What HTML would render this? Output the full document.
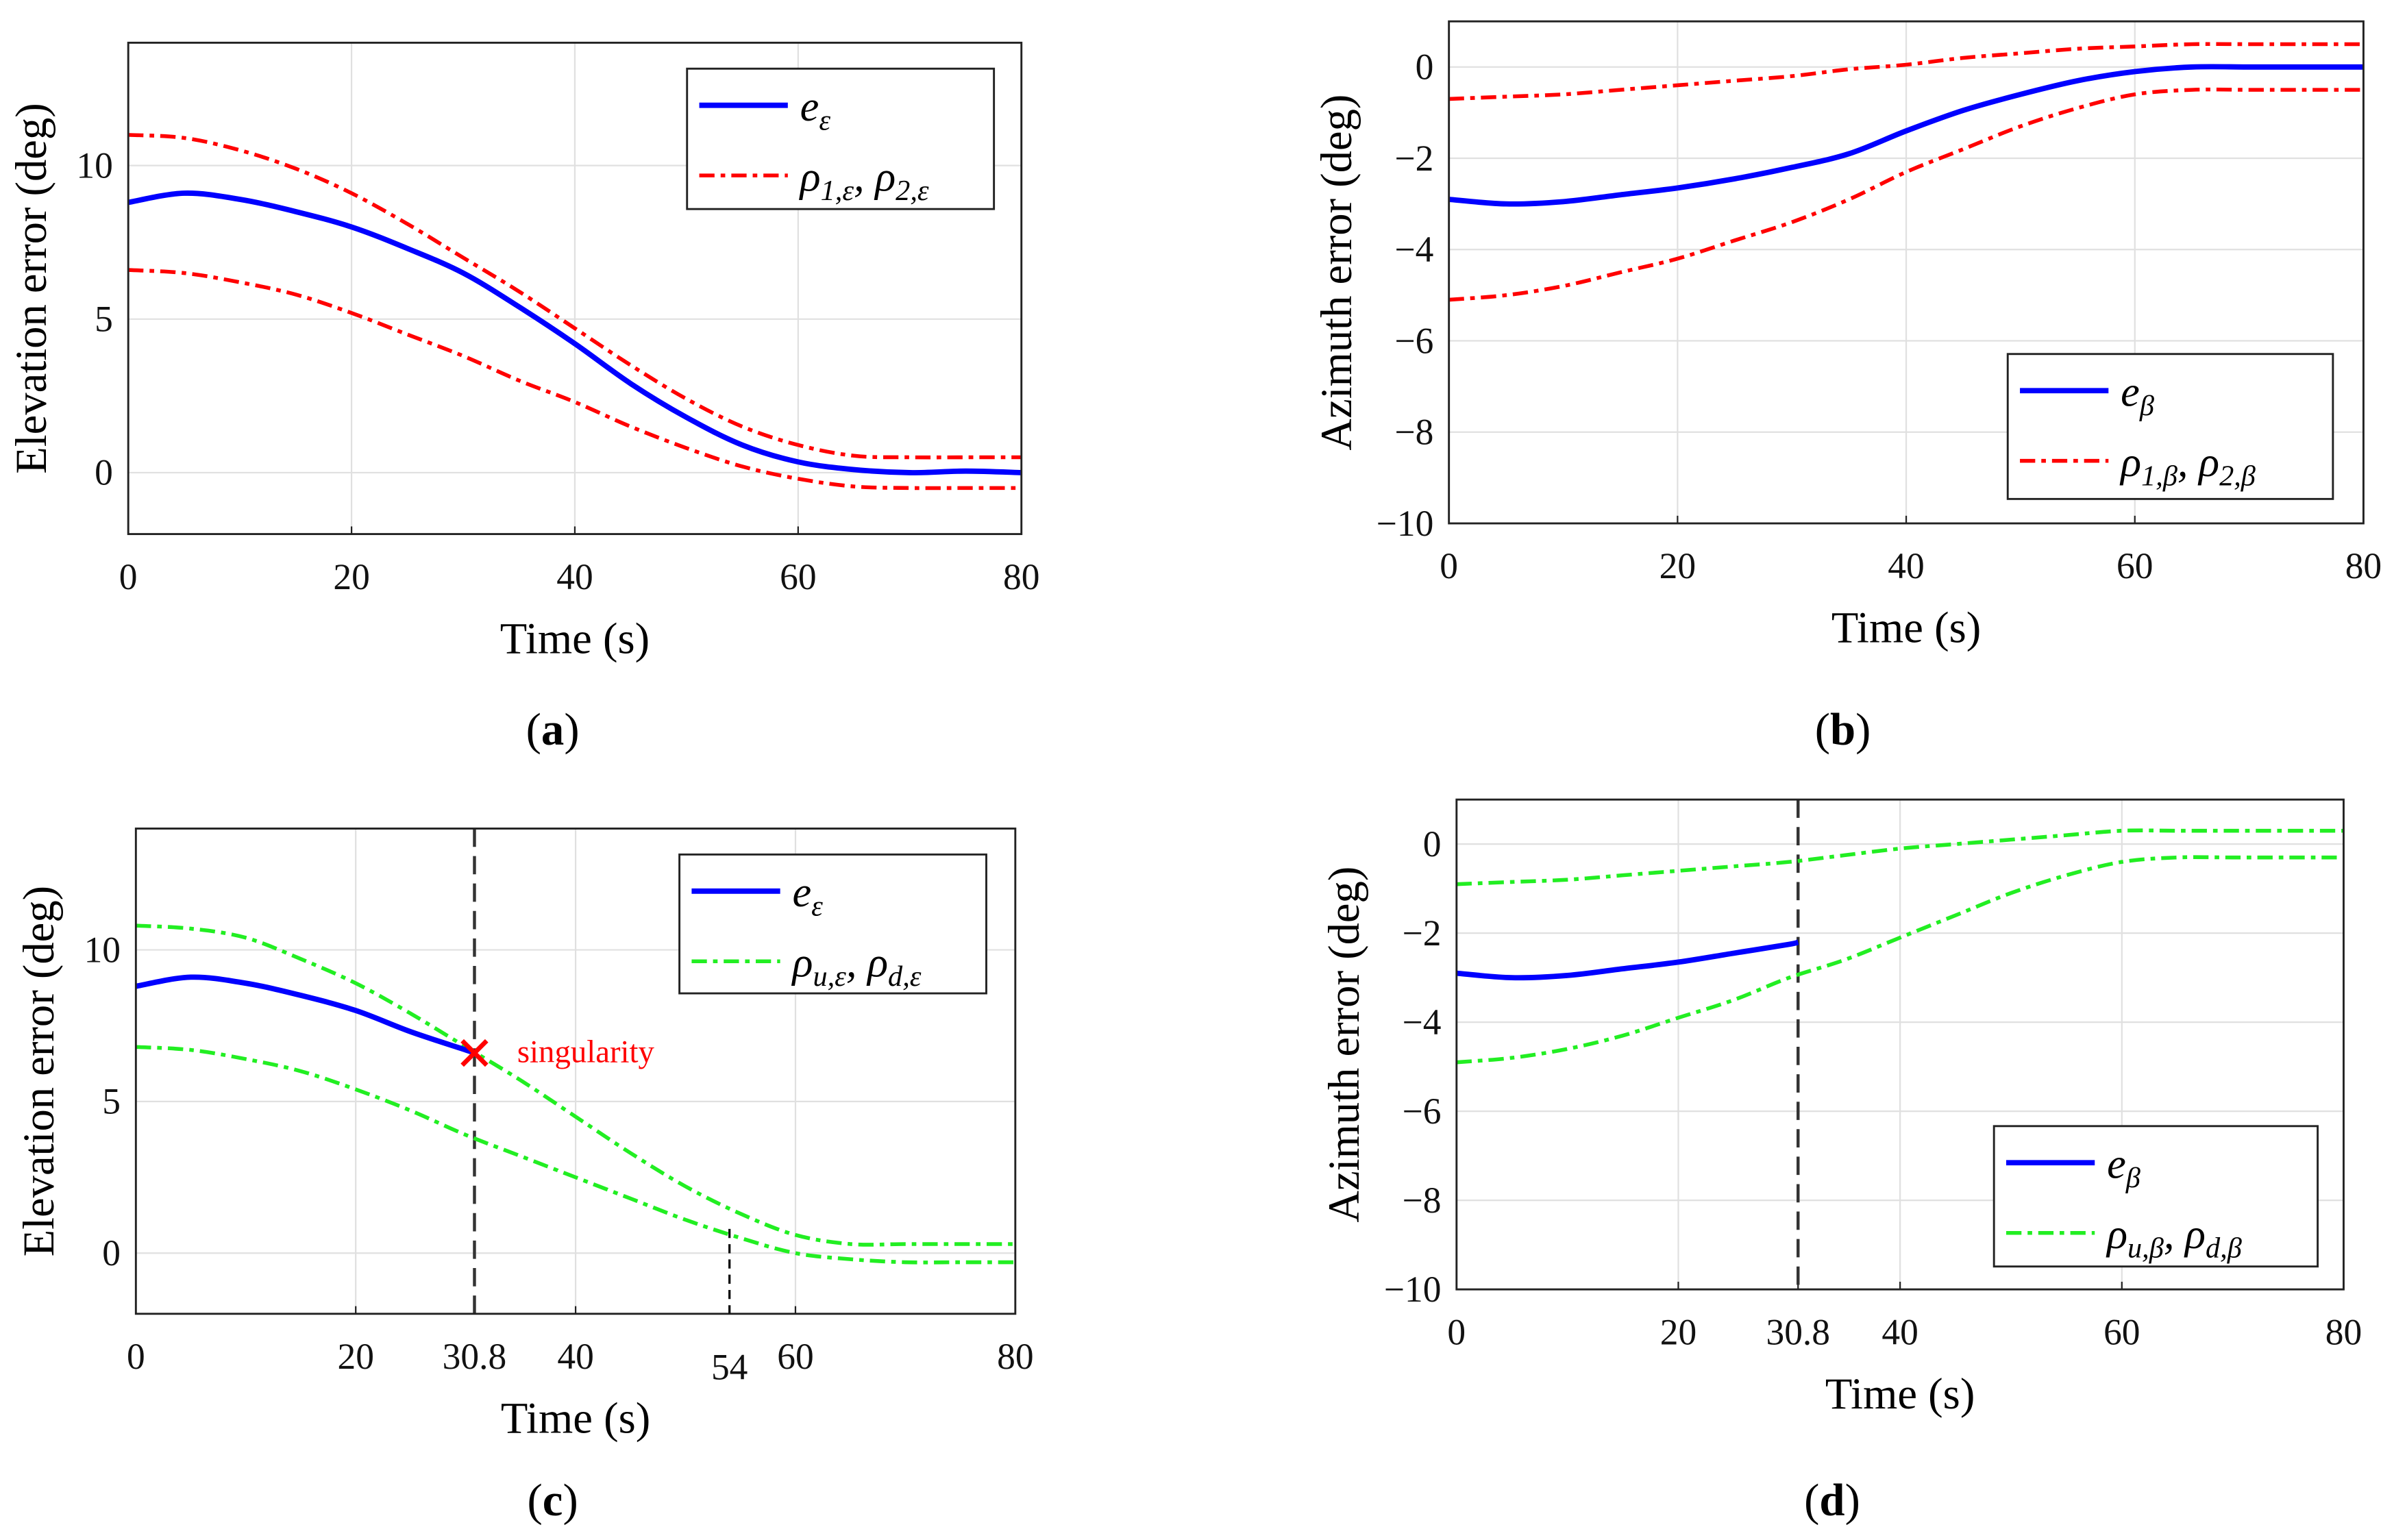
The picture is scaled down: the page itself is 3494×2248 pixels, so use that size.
<!DOCTYPE html>
<html><head><meta charset="utf-8"><style>
html,body{margin:0;padding:0;background:#fff;}
svg, svg text{font-family:"Liberation Serif","DejaVu Serif",serif;}
</style></head><body>
<svg id="fig" width="3494" height="2243" viewBox="0 0 1568 1007" preserveAspectRatio="none" font-family="Liberation Serif, serif" xmlns="http://www.w3.org/2000/svg"></svg>
<script>
const times=[0,5,10,15,20,25,30,35,40,45,50,55,60,65,70,75,80];
const aErr=[8.8,9.1,8.9,8.5,8.0,7.3,6.5,5.4,4.2,2.9,1.8,0.9,0.35,0.1,0.0,0.05,0];
const aUp=[11.0,10.9,10.5,9.9,9.1,8.1,7.0,5.9,4.7,3.5,2.4,1.5,0.9,0.55,0.5,0.5,0.5];
const aLo=[6.6,6.5,6.2,5.8,5.2,4.5,3.8,3.0,2.3,1.5,0.8,0.2,-0.2,-0.45,-0.5,-0.5,-0.5];
const bErr=[-2.9,-3.0,-2.95,-2.8,-2.65,-2.45,-2.2,-1.9,-1.4,-0.95,-0.6,-0.3,-0.1,0,0,0,0];
const bUp=[-0.7,-0.65,-0.6,-0.5,-0.4,-0.3,-0.2,-0.05,0.05,0.2,0.3,0.4,0.45,0.5,0.5,0.5,0.5];
const bLo=[-5.1,-5.0,-4.8,-4.5,-4.2,-3.8,-3.4,-2.9,-2.3,-1.8,-1.3,-0.9,-0.6,-0.5,-0.5,-0.5,-0.5];
const cTimes=[0,5,10,15,20,25,30,30.8];
const cErr=[8.8,9.1,8.9,8.5,8.0,7.3,6.7,6.6];
const cUp=[10.8,10.7,10.4,9.7,8.9,7.9,6.8,5.7,4.5,3.3,2.2,1.3,0.6,0.3,0.3,0.3,0.3];
const cLo=[6.8,6.7,6.4,6.0,5.4,4.7,3.9,3.2,2.5,1.8,1.1,0.5,0.0,-0.2,-0.3,-0.3,-0.3];
const dErr=[-2.9,-3.0,-2.95,-2.8,-2.65,-2.45,-2.25,-2.2];
const dUp=[-0.9,-0.85,-0.8,-0.7,-0.6,-0.5,-0.4,-0.25,-0.1,0,0.1,0.2,0.3,0.3,0.3,0.3,0.3];
const dLo=[-4.9,-4.8,-4.6,-4.3,-3.9,-3.5,-3.0,-2.6,-2.1,-1.6,-1.1,-0.7,-0.4,-0.3,-0.3,-0.3,-0.3];
const singT=30.8, markT=54;
const NS="http://www.w3.org/2000/svg";
const svg=document.getElementById('fig');
function mk(tag,attrs,parent,text){const e=document.createElementNS(NS,tag);for(const k in attrs)e.setAttribute(k,attrs[k]);if(text!==undefined)e.textContent=text;(parent||svg).appendChild(e);return e;}
function smooth(pts){let d='M'+pts[0][0]+','+pts[0][1];for(let i=0;i<pts.length-1;i++){const p0=pts[i-1]||pts[i],p1=pts[i],p2=pts[i+1],p3=pts[i+2]||p2;const c1=[p1[0]+(p2[0]-p0[0])/6,p1[1]+(p2[1]-p0[1])/6],c2=[p2[0]-(p3[0]-p1[0])/6,p2[1]-(p3[1]-p1[1])/6];d+=' C'+c1+' '+c2+' '+p2;}return d;}
function panel(cfg){
 const g=mk('g',{});
 const {x0,x1,y0,y1,ymin,ymax}=cfg;
 const sx=t=>x0+(t/80)*(x1-x0), sy=v=>y1-(v-ymin)/(ymax-ymin)*(y1-y0);
 mk('rect',{x:x0,y:y0,width:x1-x0,height:y1-y0,fill:'#fff'},g);
 const grid=mk('g',{stroke:'#e0e0e0','stroke-width':1},g);
 cfg.xgrid.forEach(t=>mk('line',{x1:sx(t),x2:sx(t),y1:y0,y2:y1},grid));
 cfg.yticks.forEach(v=>mk('line',{x1:x0,x2:x1,y1:sy(v),y2:sy(v)},grid));
 const xt=mk('g',{'font-size':24,'text-anchor':'middle',fill:'#111'},g);
 cfg.xticks.forEach(t=>{mk('text',{x:sx(t),y:y1+(t===markT?43:36)},xt,String(t));mk('line',{x1:sx(t),x2:sx(t),y1:y1,y2:y1-5,stroke:'#222'},g);});
 const yt=mk('g',{'font-size':24,'text-anchor':'end',fill:'#111'},g);
 cfg.yticks.forEach(v=>mk('text',{x:x0-10,y:sy(v)+8},yt,String(v).replace('-','\u2212')));
 const series=(ts,vs,color,dash,w,name)=>{const p=mk('path',{d:smooth(ts.map((t,i)=>[sx(t),sy(vs[i])])),fill:'none',stroke:color,'stroke-width':w,'stroke-dasharray':dash||'none'},g);};
 if(cfg.vline){const l=mk('line',{x1:sx(singT),x2:sx(singT),y1:y0,y2:y1,stroke:'#333','stroke-width':2,'stroke-dasharray':'12,6'},g);}
 series(times,cfg.up,cfg.bc,'10,4,3,4',2.5,'upper-bound');
 series(times,cfg.lo,cfg.bc,'10,4,3,4',2.5,'lower-bound');
 series(cfg.et,cfg.err,'#0000ff',null,3.5,'error-line');
 mk('rect',{x:x0,y:y0,width:x1-x0,height:y1-y0,fill:'none',stroke:'#222','stroke-width':1.3},g);
 const xl=mk('text',{x:(x0+x1)/2,y:y1+78,'font-size':29,'text-anchor':'middle'},g,'Time (s)');
 const yl=mk('text',{x:0,y:0,'font-size':29,'text-anchor':'middle',transform:`translate(${cfg.ylx},${(y0+y1)/2}) rotate(-90)`},g,cfg.ylabel);
 const L=cfg.leg;const lg=mk('g',{},g);
 mk('rect',{x:L[0],y:L[1],width:L[2],height:L[3],fill:'#fff',stroke:'#222','stroke-width':1.3},lg);
 mk('line',{x1:L[0]+8,x2:L[0]+66,y1:L[1]+24,y2:L[1]+24,stroke:'#0000ff','stroke-width':3.5},lg);
 mk('line',{x1:L[0]+8,x2:L[0]+66,y1:L[1]+70,y2:L[1]+70,stroke:cfg.bc,'stroke-width':2.5,'stroke-dasharray':'10,4,3,4'},lg);
 const t1=mk('text',{x:L[0]+74,y:L[1]+34,'font-size':28,'font-style':'italic'},lg);t1.innerHTML=cfg.l1;
 const t2=mk('text',{x:L[0]+74,y:L[1]+80,'font-size':28,'font-style':'italic'},lg);t2.innerHTML=cfg.l2;
 const sl=mk('text',{x:cfg.sub[0],y:cfg.sub[1],'font-size':30,'text-anchor':'middle'},g);sl.innerHTML=cfg.subt;
 if(cfg.sing){const x=sx(singT),y=sy(cErr[cErr.length-1]);const m=mk('path',{d:`M${x-8},${y-8}L${x+8},${y+8}M${x-8},${y+8}L${x+8},${y-8}`,stroke:'#ff0000','stroke-width':3},g);
  const st=mk('text',{x:x+28,y:y+6,'font-size':21,fill:'#ff0000'},g,'singularity');
  const ml=mk('line',{x1:sx(markT),x2:sx(markT),y1:sy(0.8),y2:y1,stroke:'#111','stroke-width':1.5,'stroke-dasharray':'6,4'},g);}
}
panel({name:'panel-a',x0:84,x1:669,y0:28,y1:350,ymin:-2,ymax:14,xgrid:[20,40,60],xticks:[0,20,40,60,80],yticks:[0,5,10],
 up:aUp,lo:aLo,et:times,err:aErr,bc:'#ff0000',ylabel:'Elevation error (deg)',ylx:30,leg:[450,45,201,92],
 l1:'e<tspan font-size="19" dy="6">ε</tspan>',l2:'ρ<tspan font-size="19" dy="6">1,ε</tspan><tspan dy="-6">, ρ</tspan><tspan font-size="19" dy="6">2,ε</tspan>',sub:[362,488],subt:'(<tspan font-weight="bold">a</tspan>)'});
panel({name:'panel-b',x0:949,x1:1548,y0:14,y1:343,ymin:-10,ymax:1,xgrid:[20,40,60],xticks:[0,20,40,60,80],yticks:[0,-2,-4,-6,-8,-10],
 up:bUp,lo:bLo,et:times,err:bErr,bc:'#ff0000',ylabel:'Azimuth error (deg)',ylx:885,leg:[1315,232,213,95],
 l1:'e<tspan font-size="19" dy="6">β</tspan>',l2:'ρ<tspan font-size="19" dy="6">1,β</tspan><tspan dy="-6">, ρ</tspan><tspan font-size="19" dy="6">2,β</tspan>',sub:[1207,488],subt:'(<tspan font-weight="bold">b</tspan>)'});
panel({name:'panel-c',x0:89,x1:665,y0:543,y1:861,ymin:-2,ymax:14,xgrid:[20,40,60],xticks:[0,20,30.8,40,54,60,80],yticks:[0,5,10],
 up:cUp,lo:cLo,et:cTimes,err:cErr,bc:'#22ee22',ylabel:'Elevation error (deg)',ylx:35,leg:[445,560,201,91],vline:true,sing:true,
 l1:'e<tspan font-size="19" dy="6">ε</tspan>',l2:'ρ<tspan font-size="19" dy="6">u,ε</tspan><tspan dy="-6">, ρ</tspan><tspan font-size="19" dy="6">d,ε</tspan>',sub:[362,993],subt:'(<tspan font-weight="bold">c</tspan>)'});
panel({name:'panel-d',x0:954,x1:1535,y0:524,y1:845,ymin:-10,ymax:1,xgrid:[20,40,60],xticks:[0,20,30.8,40,60,80],yticks:[0,-2,-4,-6,-8,-10],
 up:dUp,lo:dLo,et:cTimes,err:dErr,bc:'#22ee22',ylabel:'Azimuth error (deg)',ylx:890,leg:[1306,738,212,92],vline:true,
 l1:'e<tspan font-size="19" dy="6">β</tspan>',l2:'ρ<tspan font-size="19" dy="6">u,β</tspan><tspan dy="-6">, ρ</tspan><tspan font-size="19" dy="6">d,β</tspan>',sub:[1200,993],subt:'(<tspan font-weight="bold">d</tspan>)'});
</script>
</body></html>
